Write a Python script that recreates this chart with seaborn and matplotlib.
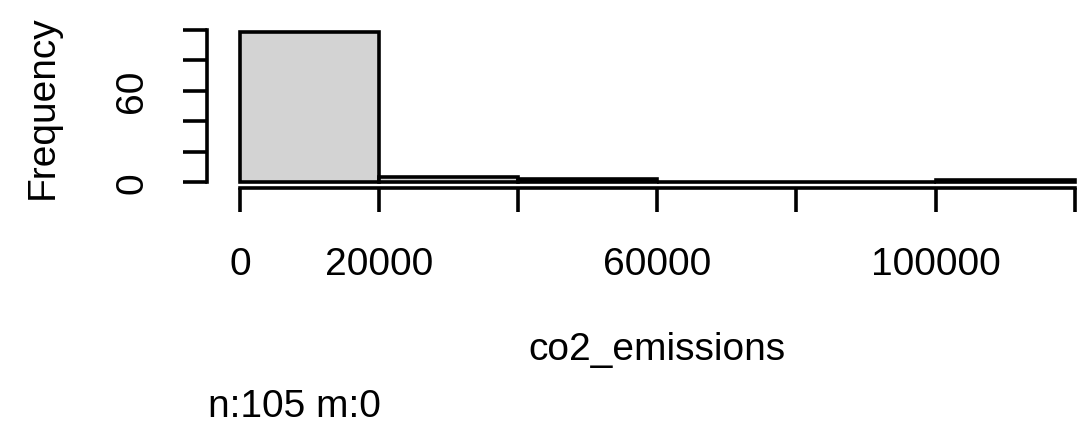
import matplotlib
matplotlib.use("Agg")
import matplotlib.pyplot as plt
import seaborn as sns

# ---- data ----
bin_edges = [0, 20000, 40000, 60000, 80000, 100000, 120000]
counts = [99, 3, 2, 0, 0, 1]
x_ticks = [0, 20000, 40000, 60000, 80000, 100000, 120000]
x_tick_labels = ["0", "20000", "", "60000", "", "100000", ""]
y_ticks = [0, 20, 40, 60, 80, 100]
y_tick_labels = ["0", "", "", "60", "", ""]
x_label = "co2_emissions"
y_label = "Frequency"
note = "n:105 m:0"

sns.set_style("white")
plt.rcParams["font.family"] = ["Liberation Sans", "DejaVu Sans"]
plt.rcParams["text.color"] = "black"

W, H = 1077, 427
fig = plt.figure(figsize=(W / 100, H / 100), dpi=100)
ax = fig.add_axes([206.6 / W, 1 - 189.0 / H, (1108 - 206.6) / W, (189.0 - 26.5) / H])

mids = [(a + b) / 2 for a, b in zip(bin_edges[:-1], bin_edges[1:])]
sns.histplot(x=mids, weights=counts, bins=bin_edges, color="#D3D3D3",
             edgecolor="black", linewidth=2.6, alpha=1, ax=ax)

ax.set_xlim(-4800, 124800)
ax.set_ylim(-3.96, 102.96)
ax.set_xlabel("")
ax.set_ylabel("")

for s in ["top", "right"]:
    ax.spines[s].set_visible(False)
for s in ["left", "bottom"]:
    ax.spines[s].set_linewidth(2.6)
    ax.spines[s].set_color("black")
ax.spines["left"].set_bounds(0, 100)
ax.spines["bottom"].set_bounds(0, 120000)

ax.set_xticks(x_ticks)
ax.set_xticklabels(x_tick_labels)
ax.set_yticks(y_ticks)
ax.set_yticklabels(y_tick_labels, rotation=90, va="center")

ax.tick_params(axis="both", direction="out", length=17.5, width=2.6,
               labelsize=28, colors="black", bottom=True, left=True)
ax.tick_params(axis="x", pad=24.5)
ax.tick_params(axis="y", pad=23)

fig.text(657 / W, 1 - 360 / H, x_label, ha="center", va="baseline", fontsize=28, color="black")
fig.text(25 / W, 1 - 107 / H, y_label, ha="left", va="center", rotation=90, fontsize=28, color="black")
fig.text(208 / W, 1 - 417 / H, note, ha="left", va="baseline", fontsize=28, color="black")

fig.savefig("out.png", dpi=100)
